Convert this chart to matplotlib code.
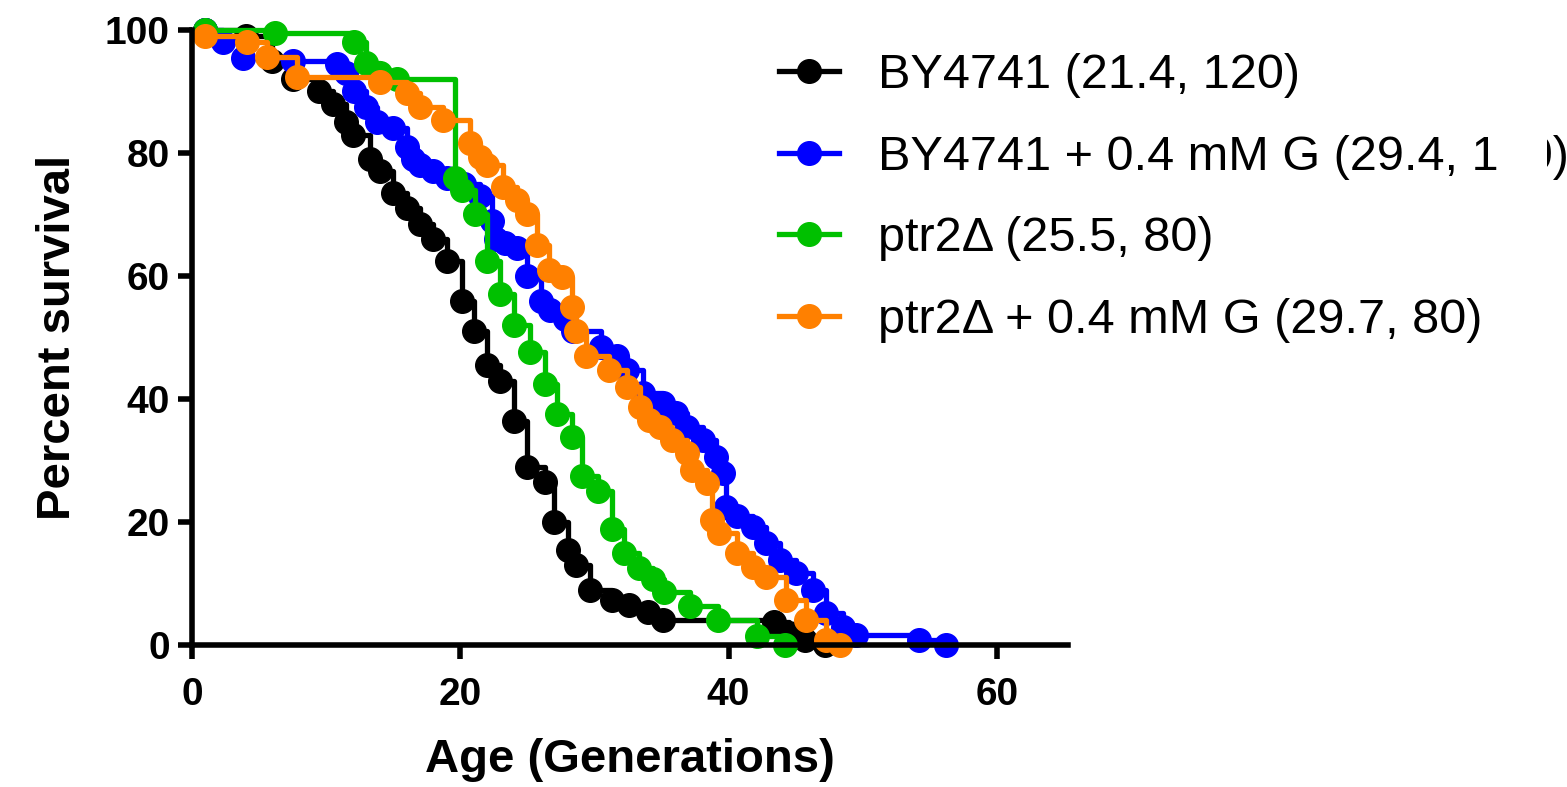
import matplotlib
matplotlib.use("Agg")
import matplotlib.pyplot as plt
from matplotlib.patches import Rectangle

plt.rcParams['font.family'] = ['Liberation Sans', 'DejaVu Sans']

# survival curves (age in generations, percent alive)
by_x = [1, 4, 6, 7.5, 9.5, 10.5, 11.5, 12, 13.3, 14, 15, 16, 17, 18, 19, 20.1, 21, 22, 23, 24,
        25, 26.3, 27, 28, 28.6, 29.7, 31.3, 32.6, 34, 35.1, 43.4, 44.5, 45.7, 47.2]
by_y = [100, 99, 95, 92, 90, 88, 85, 83, 79, 77, 73.5, 71, 68.5, 66, 62.5, 56, 51, 45.5, 43, 36.5,
        29, 26.5, 20, 15.5, 13, 9, 7.3, 6.5, 5.4, 4, 3.7, 2, 0.8, 0]

byg_x = [1, 2.3, 3.8, 7.5, 10.8, 11.5, 12.1, 13, 13.8, 15, 16, 16.5, 17, 18, 19, 20.3, 21.5, 22.4,
         22.7, 23.3, 24.2, 25, 26, 26.7, 27.8, 28.4, 30.5, 31.7, 32.4, 33.6, 35.1, 36.1, 36.9, 38.1,
         39.1, 39.6, 39.8, 40.6, 41.8, 42.8, 43.8, 45, 46.3, 47.3, 48.5, 49.5, 54.2, 56.2]
byg_y = [100, 98, 95.5, 95, 94.5, 93, 90, 87.5, 85, 84, 81, 79, 78, 77, 76, 75, 73, 69,
         66, 65.4, 64.5, 60, 56, 54.5, 53, 51, 48.5, 47, 44.7, 41, 39.4, 37.7, 35.5, 33.3,
         30.6, 28, 22.5, 21, 19.2, 16.6, 13.8, 11.7, 9, 5.2, 3, 1.7, 0.8, 0]

ptr_x = [1, 6.2, 12.1, 13, 14, 15.3, 19.6, 20.1, 21.1, 22, 23, 24, 25.2, 26.3, 27.2, 28.3, 29.1,
         30.3, 31.3, 32.2, 33.3, 34.4, 35.2, 37.1, 39.2, 42.1, 44.2]
ptr_y = [100, 99.5, 98, 94.6, 93, 92, 76, 74, 70, 62.5, 57, 52, 47.6, 42.5, 37.5, 33.8, 27.5,
         25, 18.8, 15, 12.5, 10.7, 8.7, 6.3, 4, 1.5, 0]

ptrg_x = [1, 4.1, 5.6, 7.8, 14, 16, 17, 18.7, 20.7, 21.5, 22, 23.2, 24.2, 25, 25.7, 26.6, 27.6,
          28.3, 28.6, 29.4, 31.1, 32.4, 33.4, 34.1, 34.9, 35.8, 36.9, 37.3, 38.4, 38.8, 39.3, 40.6,
          41.8, 42.8, 44.3, 45.8, 47.3, 48.3]
ptrg_y = [99, 98, 95.6, 92.4, 91.5, 89.8, 87.5, 85.4, 81.6, 79.3, 78, 74.5, 72.4, 70, 65, 61, 59.8,
          55, 51, 47, 44.7, 42, 38.7, 36.6, 35.4, 33.3, 31.2, 28.5, 26.3, 20.3, 18.2, 15,
          12.7, 11, 7.3, 4, 0.8, 0]

labels = ["BY4741 (21.4, 120)", "BY4741 + 0.4 mM G (29.4, 120)",
          "ptr2\u0394 (25.5, 80)", "ptr2\u0394 + 0.4 mM G (29.7, 80)"]
colors = ["#000000", "#0000FF", "#00C000", "#FF8000"]
series = [(by_x, by_y), (byg_x, byg_y), (ptr_x, ptr_y), (ptrg_x, ptrg_y)]

fig = plt.figure(figsize=(15.67, 7.87), dpi=100)
ax = fig.add_axes([0.1225, 0.1804, 0.559, 0.7815])

for (xs, ys), c, lab in zip(series, colors, labels):
    ax.plot(xs, ys, drawstyle='steps-post', color=c, lw=3.8, marker='o', ms=17,
            mec=c, mfc=c, clip_on=False, label=lab)

ax.set_xlim(0, 65.3)
ax.set_ylim(0, 100)
ax.set_xticks([0, 20, 40, 60])
ax.set_yticks([0, 20, 40, 60, 80, 100])
for s in ['top', 'right']:
    ax.spines[s].set_visible(False)
for s in ['left', 'bottom']:
    ax.spines[s].set_linewidth(4)
ax.tick_params(width=4, length=10, labelsize=28, pad=6)
ax.tick_params(axis='x', pad=13)
for t in ax.get_xticklabels() + ax.get_yticklabels():
    t.set_fontweight('bold')

ax.set_xlabel("Age (Generations)", fontsize=34, fontweight='bold', labelpad=18)
ax.set_ylabel("Percent survival", fontsize=34, fontweight='bold', labelpad=18)

leg = ax.legend(loc='upper left', bbox_to_anchor=(0.4815, 0.963), bbox_transform=fig.transFigure,
                frameon=False, fontsize=35, handlelength=1.23, handletextpad=0.82,
                labelspacing=0.75, borderpad=0)

# part of the second legend entry is hidden in the original
fig.patches.append(Rectangle((0.957, 0.775), 0.0305, 0.07, transform=fig.transFigure,
                             facecolor='white', edgecolor='none', zorder=10))

fig.savefig("out.png", dpi=100)
